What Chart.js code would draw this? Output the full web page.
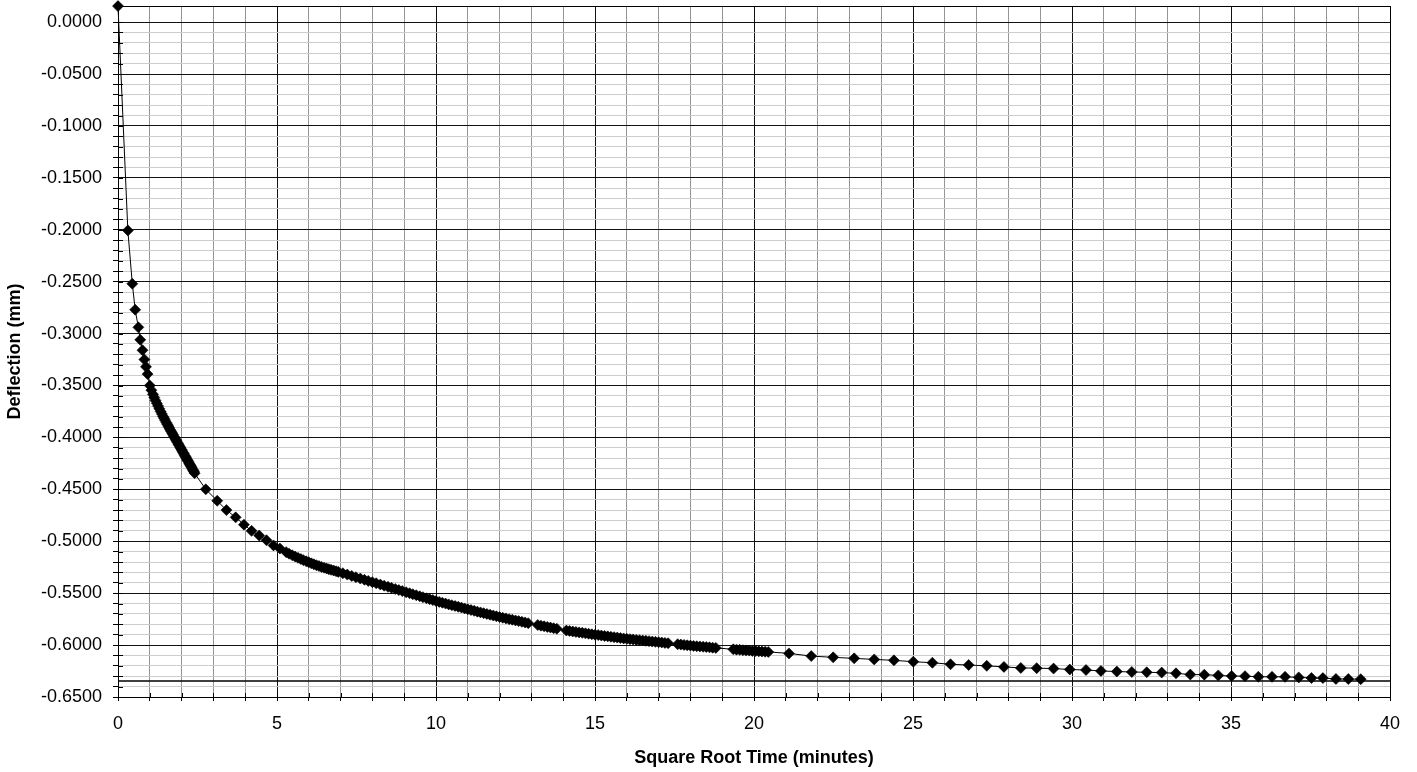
<!DOCTYPE html>
<html>
<head>
<meta charset="utf-8">
<script src="https://cdn.jsdelivr.net/npm/chart.js@4.4.1/dist/chart.umd.min.js"></script>
<style>
  html, body { margin: 0; padding: 0; background: #fff; }
  #wrap { width: 1417px; height: 772px; }
</style>
</head>
<body>
<div id="wrap"><canvas id="chart" width="1417" height="772"></canvas></div>
<script>
// square root of elapsed time (minutes) and deflection readings (mm)
const sqrtTime = [
  0.00, 0.31, 0.45, 0.54, 0.64, 0.70, 0.77, 0.83, 0.88, 0.93,
  1.00, 1.05, 1.10, 1.14, 1.18, 1.22, 1.26, 1.30, 1.34, 1.38,
  1.42, 1.45, 1.48, 1.52, 1.55, 1.58, 1.61, 1.64, 1.67, 1.70,
  1.73, 1.76, 1.79, 1.82, 1.84, 1.87, 1.90, 1.92, 1.95, 1.97,
  2.00, 2.02, 2.05, 2.07, 2.10, 2.12, 2.14, 2.17, 2.19, 2.21,
  2.24, 2.26, 2.28, 2.30, 2.32, 2.35, 2.37, 2.39, 2.41,
  2.76, 3.12, 3.41, 3.70, 3.96, 4.20, 4.44, 4.67, 4.89, 5.09,
  5.29, 5.38, 5.48, 5.57, 5.66, 5.75, 5.83, 5.92, 6.00, 6.08,
  6.16, 6.24, 6.32, 6.40, 6.48, 6.56, 6.63, 6.70, 6.78, 6.86,
  6.93, 7.07, 7.21, 7.35, 7.48, 7.62, 7.75, 7.87, 8.00, 8.12,
  8.25, 8.37, 8.49, 8.60, 8.72, 8.83, 8.94, 9.06, 9.17, 9.27,
  9.38, 9.49, 9.59, 9.70, 9.80, 9.90, 10.00,
  10.1, 10.2, 10.3, 10.4, 10.5, 10.6, 10.7, 10.8, 10.9, 11.0,
  11.1, 11.2, 11.3, 11.4, 11.5, 11.6, 11.7, 11.8, 11.9, 12.0,
  12.1, 12.2, 12.3, 12.4, 12.5, 12.6, 12.7, 12.8, 12.9,
  13.2, 13.3, 13.4, 13.5, 13.6, 13.7, 13.8,
  14.1, 14.2, 14.3, 14.4, 14.5, 14.6, 14.7, 14.8, 14.9, 15.0,
  15.1, 15.2, 15.3, 15.4, 15.5, 15.6, 15.7, 15.8, 15.9, 16.0,
  16.1, 16.2, 16.3, 16.4, 16.5, 16.6, 16.7, 16.8, 16.9, 17.0,
  17.1, 17.2, 17.3,
  17.6, 17.7, 17.8, 17.9, 18.0, 18.1, 18.2, 18.3, 18.4, 18.5,
  18.6, 18.7, 18.8,
  19.35, 19.45, 19.55, 19.65, 19.75, 19.85, 19.95, 20.05, 20.15, 20.25,
  20.35, 20.45,
  21.10, 21.80, 22.49, 23.15, 23.78, 24.40, 25.01, 25.61, 26.18, 26.75,
  27.32, 27.86, 28.39, 28.89, 29.42, 29.93, 30.44, 30.91, 31.41, 31.88,
  32.35, 32.82, 33.27, 33.72, 34.16, 34.60, 35.02, 35.44, 35.86, 36.29,
  36.70, 37.13, 37.53, 37.89, 38.30, 38.69, 39.08
];
const deflection = [
  0.0154, -0.2006, -0.2520, -0.2770, -0.2940, -0.3060, -0.3160, -0.3250, -0.3320, -0.3390,
  -0.3500, -0.3545, -0.3585, -0.3615, -0.3645, -0.3672, -0.3698, -0.3724, -0.3750, -0.3774,
  -0.3798, -0.3816, -0.3834, -0.3857, -0.3874, -0.3891, -0.3908, -0.3925, -0.3941, -0.3957,
  -0.3973, -0.3990, -0.4006, -0.4022, -0.4033, -0.4049, -0.4065, -0.4076, -0.4092, -0.4103,
  -0.4119, -0.4130, -0.4146, -0.4157, -0.4173, -0.4184, -0.4195, -0.4211, -0.4222, -0.4233,
  -0.4249, -0.4260, -0.4271, -0.4282, -0.4293, -0.4309, -0.4320, -0.4331, -0.4345,
  -0.4500, -0.4610, -0.4700, -0.4770, -0.4840, -0.4900, -0.4945, -0.4990, -0.5040, -0.5070,
  -0.5105, -0.5120, -0.5135, -0.5148, -0.5160, -0.5171, -0.5182, -0.5193, -0.5203, -0.5213,
  -0.5222, -0.5231, -0.5239, -0.5247, -0.5255, -0.5262, -0.5269, -0.5275, -0.5282, -0.5289,
  -0.5295, -0.5308, -0.5321, -0.5334, -0.5346, -0.5359, -0.5371, -0.5382, -0.5394, -0.5405,
  -0.5417, -0.5428, -0.5439, -0.5449, -0.5460, -0.5470, -0.5480, -0.5491, -0.5501, -0.5510,
  -0.5520, -0.5530, -0.5539, -0.5549, -0.5558, -0.5567, -0.5576,
  -0.5584, -0.5592, -0.5600, -0.5608, -0.5616, -0.5623, -0.5631, -0.5639, -0.5647, -0.5655,
  -0.5663, -0.5670, -0.5678, -0.5685, -0.5693, -0.5700, -0.5708, -0.5715, -0.5723, -0.5730,
  -0.5737, -0.5743, -0.5750, -0.5756, -0.5763, -0.5769, -0.5776, -0.5782, -0.5789,
  -0.5807, -0.5813, -0.5819, -0.5825, -0.5831, -0.5837, -0.5843,
  -0.5860, -0.5864, -0.5869, -0.5873, -0.5878, -0.5882, -0.5887, -0.5891, -0.5896, -0.5900,
  -0.5904, -0.5908, -0.5912, -0.5916, -0.5920, -0.5924, -0.5928, -0.5932, -0.5936, -0.5940,
  -0.5943, -0.5946, -0.5950, -0.5953, -0.5956, -0.5959, -0.5962, -0.5966, -0.5969, -0.5972,
  -0.5975, -0.5979, -0.5982,
  -0.5992, -0.5995, -0.5998, -0.6002, -0.6005, -0.6008, -0.6011, -0.6013, -0.6016, -0.6019,
  -0.6022, -0.6025, -0.6027,
  -0.6041, -0.6044, -0.6046, -0.6049, -0.6051, -0.6053, -0.6056, -0.6058, -0.6060, -0.6062,
  -0.6064, -0.6066,
  -0.6080, -0.6106, -0.6118, -0.6128, -0.6138, -0.6147, -0.6160, -0.6170, -0.6185, -0.6192,
  -0.6200, -0.6210, -0.6220, -0.6222, -0.6226, -0.6235, -0.6240, -0.6249, -0.6255, -0.6259,
  -0.6262, -0.6265, -0.6272, -0.6284, -0.6285, -0.6292, -0.6298, -0.6299, -0.6305, -0.6306,
  -0.6306, -0.6311, -0.6317, -0.6318, -0.6326, -0.6327, -0.6328
];

// horizontal reference line near the final reading
const finalLine = -0.6346;

// axis ranges and ticks
const xMin = 0, xMax = 40, xMinorStep = 1, xMajorStep = 5;
const yMin = -0.65, yMax = 0.0154, yMinorStep = 0.01, yMajorStep = 0.05;

const FONT = "'Liberation Sans', Arial, sans-serif";
const points = sqrtTime.map((x, i) => ({ x: x, y: deflection[i] }));

function isMajorX(v) { return Math.round(v) % xMajorStep === 0; }
function isMajorY(v) { return Math.round(v * 100) % Math.round(yMajorStep * 100) === 0; }

// frame around the plot area + tick marks crossing the axes
const framePlugin = {
  id: 'frame',
  afterDraw(chart) {
    const { ctx, chartArea: a, scales } = chart;
    ctx.save();
    ctx.strokeStyle = '#000';
    ctx.lineWidth = 1;
    ctx.strokeRect(Math.round(a.left) + 0.5, Math.round(a.top) + 0.5,
      Math.round(a.right - a.left), Math.round(a.bottom - a.top));
    ctx.beginPath();
    scales.y.ticks.forEach(t => {
      const py = Math.round(scales.y.getPixelForValue(t.value)) + 0.5;
      ctx.moveTo(a.left, py);
      ctx.lineTo(a.left + 5, py);
    });
    scales.x.ticks.forEach(t => {
      const px = Math.round(scales.x.getPixelForValue(t.value)) + 0.5;
      ctx.moveTo(px, a.bottom);
      ctx.lineTo(px, a.bottom - 4);
    });
    ctx.stroke();
    ctx.restore();
  }
};

new Chart(document.getElementById('chart'), {
  type: 'scatter',
  data: {
    datasets: [{
      label: 'Deflection',
      data: points,
      showLine: true,
      borderColor: '#000',
      borderWidth: 1,
      backgroundColor: '#000',
      pointStyle: 'rectRot',
      pointRadius: 5.5,
      pointBorderColor: '#000',
      pointBorderWidth: 0.6,
      clip: false,
      order: 1
    }, {
      label: 'Final',
      data: [{ x: xMin, y: finalLine }, { x: xMax, y: finalLine }],
      showLine: true,
      borderColor: '#000',
      borderWidth: 1.5,
      pointRadius: 0,
      order: 2
    }]
  },
  options: {
    responsive: false,
    animation: false,
    layout: { padding: { top: 5, right: 27, left: 0, bottom: 0 } },
    plugins: {
      legend: { display: false },
      tooltip: { enabled: false }
    },
    scales: {
      x: {
        type: 'linear',
        min: xMin,
        max: xMax,
        afterBuildTicks: s => {
          const t = [];
          for (let v = xMin; v <= xMax; v += xMinorStep) t.push({ value: v });
          s.ticks = t;
        },
        afterFit: s => { s.height = 75; s.paddingLeft = 0; s.paddingRight = 0; },
        ticks: {
          autoSkip: false,
          maxRotation: 0,
          padding: 12,
          color: '#000',
          font: { family: FONT, size: 18 },
          callback: v => isMajorX(v) ? String(v) : ''
        },
        grid: {
          color: c => isMajorX(c.tick.value) ? '#111' : '#959595',
          tickColor: '#000',
          tickLength: 4
        },
        border: { display: true, color: '#000', width: 1 },
        title: {
          display: true,
          text: 'Square Root Time (minutes)',
          color: '#000',
          font: { family: FONT, size: 18, weight: 'bold' },
          padding: { top: 0, bottom: 3 }
        }
      },
      y: {
        type: 'linear',
        min: yMin,
        max: yMax,
        afterBuildTicks: s => {
          const t = [];
          const n = Math.round((0 - yMin) / yMinorStep);
          for (let i = 0; i <= n; i++) t.push({ value: +(yMin + i * yMinorStep).toFixed(4) });
          s.ticks = t;
        },
        afterFit: s => { s.width = 118; s.paddingTop = 0; s.paddingBottom = 0; },
        ticks: {
          autoSkip: false,
          padding: 11,
          color: '#000',
          font: { family: FONT, size: 18 },
          callback: v => isMajorY(v) ? v.toFixed(4) : ''
        },
        grid: {
          color: c => isMajorY(c.tick.value) ? '#111' : '#cdcdcd',
          tickColor: '#000',
          tickLength: 5
        },
        border: { display: true, color: '#000', width: 1 },
        title: {
          display: true,
          text: 'Deflection (mm)',
          color: '#000',
          font: { family: FONT, size: 18, weight: 'bold' },
          padding: { top: 4, bottom: 0 }
        }
      }
    }
  },
  plugins: [framePlugin]
});
</script>
</body>
</html>
